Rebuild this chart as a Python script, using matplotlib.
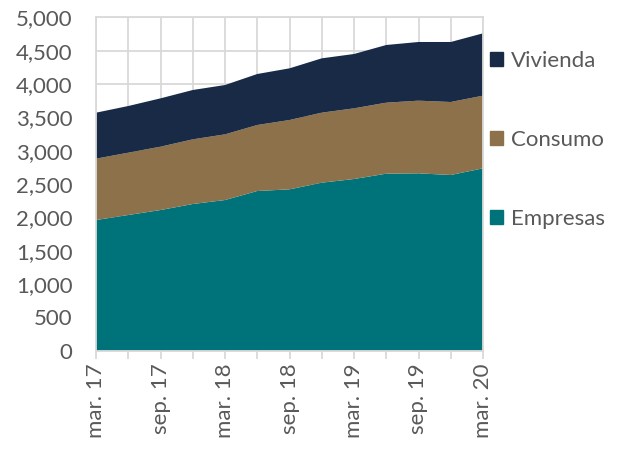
import matplotlib.pyplot as plt
from matplotlib.patches import Patch

quarters = ["mar. 17", "jun. 17", "sep. 17", "dic. 17", "mar. 18", "jun. 18", "sep. 18",
            "dic. 18", "mar. 19", "jun. 19", "sep. 19", "dic. 19", "mar. 20"]
empresas = [1960, 2035, 2110, 2200, 2260, 2395, 2420, 2520, 2575, 2655, 2660, 2635, 2735]
consumo = [920, 935, 950, 970, 985, 990, 1040, 1050, 1060, 1065, 1090, 1095, 1090]
vivienda = [690, 700, 725, 740, 740, 765, 775, 815, 815, 865, 880, 900, 935]

colors = {"Empresas": "#00727a", "Consumo": "#8c714a", "Vivienda": "#192a46"}
gray = "#595959"
grid = "#d9d9d9"

plt.rcParams['font.family'] = ['Lato', 'DejaVu Sans']

fig = plt.figure(figsize=(6.2, 4.51), dpi=100)
ax = fig.add_axes([0.155, 0.2224, 0.624, 0.7392])

x = list(range(len(quarters)))
ax.stackplot(x, empresas, consumo, vivienda,
             colors=[colors["Empresas"], colors["Consumo"], colors["Vivienda"]],
             linewidth=0, zorder=2)

ax.set_xlim(0, len(quarters) - 1)
ax.set_ylim(0, 5000)
ax.set_yticks(range(0, 5001, 500))
ax.set_yticklabels([f"{v:,}" for v in range(0, 5001, 500)])
ax.set_xticks(x)
ax.set_xticklabels([q if i % 2 == 0 else "" for i, q in enumerate(quarters)], rotation=90)

ax.grid(True, color=grid, linewidth=1.3, zorder=0)
ax.set_axisbelow(True)
for s in ax.spines.values():
    s.set_color(grid)
    s.set_linewidth(1.3)
ax.tick_params(axis='x', length=6, color=grid, width=1.3, labelsize=16, labelcolor=gray, pad=3)
ax.tick_params(axis='y', length=0, labelsize=16, labelcolor=gray, pad=17)

handles = [Patch(color=colors[k]) for k in ["Vivienda", "Consumo", "Empresas"]]
leg = ax.legend(handles, ["Vivienda", "Consumo", "Empresas"], loc='upper left',
                bbox_to_anchor=(0.995, 0.925), frameon=False, fontsize=16,
                labelcolor=gray, handlelength=0.6, handleheight=0.6,
                handletextpad=0.35, labelspacing=2.65, borderaxespad=0)

fig.savefig("out.png", dpi=100)
